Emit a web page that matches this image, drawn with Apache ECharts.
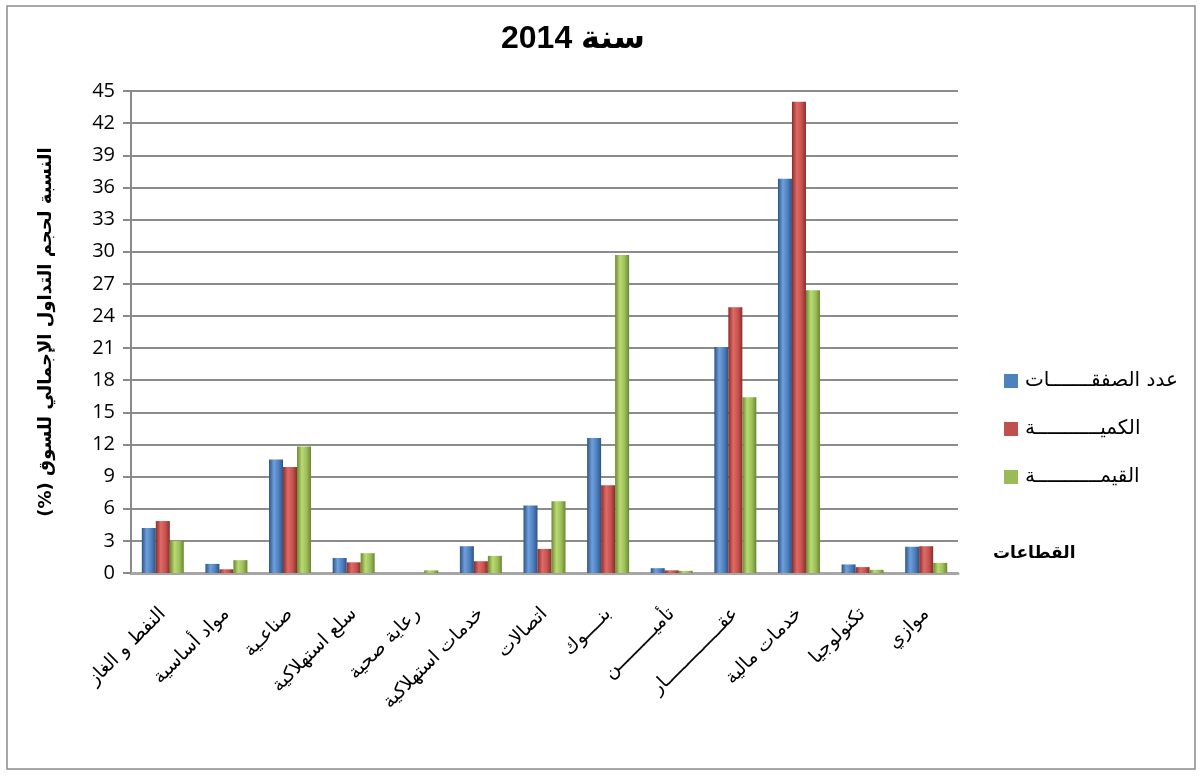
<!DOCTYPE html>
<html>
<head>
<meta charset="utf-8">
<script src="https://cdn.jsdelivr.net/npm/echarts@6/dist/echarts.min.js"></script>
<style>
  html, body { margin: 0; padding: 0; background: #ffffff; }
  #chart { width: 1203px; height: 776px; }
</style>
</head>
<body>
<div id="chart" dir="rtl"></div>
<script>
// Sector names along the category axis
const sectors = [
  'النفط و الغاز',
  'مواد أساسية',
  'صناعـية',
  'سلع استهلاكية',
  'رعاية صحية',
  'خدمات استهلاكية',
  'اتصالات',
  'بنــــوك',
  'تأميـــــــــن',
  'عقــــــــــــــار',
  'خدمات مالية',
  'تكنولوجيا',
  'موازي'
];

// Share of total market trading (%), per sector
const dealsShare  = [4.2, 0.85, 10.6, 1.4, 0, 2.5, 6.3, 12.6, 0.45, 21.1, 36.8, 0.8, 2.45];
const volumeShare = [4.85, 0.35, 9.9, 1.0, 0, 1.1, 2.25, 8.2, 0.25, 24.8, 44.0, 0.55, 2.5];
const valueShare  = [3.0, 1.2, 11.8, 1.85, 0.25, 1.6, 6.7, 29.7, 0.2, 16.4, 26.4, 0.3, 0.95];

const seriesNames = ['عدد الصفقـــــــات', 'الكميـــــــــــة', 'القيمـــــــــــة'];
const categoryAxisTitle = 'القطاعات';
const yTicks = { min: 0, max: 45, step: 3 };

// Cylinder-like shading across each bar
function shade(dark, light, base) {
  return new echarts.graphic.LinearGradient(0, 0, 1, 0, [
    { offset: 0, color: dark },
    { offset: 0.35, color: light },
    { offset: 0.7, color: base },
    { offset: 1, color: dark }
  ]);
}

const palette = [
  { legend: '#4F81BD', fill: shade('#2c5487', '#6fa0dc', '#4d7fbd') },
  { legend: '#C0504D', fill: shade('#8a2d2a', '#e06a66', '#c4524e') },
  { legend: '#9BBB59', fill: shade('#6a8731', '#badb72', '#9bbd58') }
];

const arabicFont = '"DejaVu Sans", sans-serif';

function makeSeries(name, data, idx) {
  return {
    name: name,
    type: 'bar',
    data: data,
    barWidth: 14,
    barGap: '0%',
    itemStyle: { color: palette[idx].fill },
    emphasis: { disabled: true }
  };
}

const chart = echarts.init(document.getElementById('chart'), null, { renderer: 'canvas' });

chart.setOption({
  animation: false,
  backgroundColor: '#ffffff',
  color: palette.map(p => p.legend),
  title: {
    text: 'سنة 2014',
    left: 568,
    top: 18,
    textAlign: 'center',
    textStyle: { fontFamily: '"Liberation Sans", ' + arabicFont, fontSize: 32, fontWeight: 'bold', color: '#000' }
  },
  legend: {
    orient: 'vertical',
    left: 999,
    top: 365,
    itemWidth: 14,
    itemHeight: 14,
    itemGap: 26,
    icon: 'rect',
    data: seriesNames.map((n, i) => ({ name: n, itemStyle: { color: palette[i].legend } })),
    textStyle: { fontFamily: arabicFont, fontSize: 20, lineHeight: 22, color: '#000', padding: [0, 0, 0, 2] }
  },
  grid: { left: 131, right: 245, top: 91, bottom: 203, containLabel: false },
  xAxis: {
    type: 'category',
    data: sectors,
    axisLine: { show: true, lineStyle: { color: '#a6a6a6', width: 3 } },
    axisTick: { show: false },
    axisLabel: {
      interval: 0,
      rotate: 45,
      margin: 38,
      color: '#000',
      fontFamily: arabicFont,
      fontSize: 19
    }
  },
  yAxis: {
    type: 'value',
    min: yTicks.min,
    max: yTicks.max,
    interval: yTicks.step,
    name: 'النسبة لحجم التداول الإجمالي للسوق (%)',
    nameLocation: 'middle',
    nameGap: 76,
    nameRotate: 90,
    nameTextStyle: { fontFamily: arabicFont, fontSize: 18, fontWeight: 'bold', color: '#000' },
    axisLine: { show: true, lineStyle: { color: '#8a8a8a', width: 2 } },
    axisTick: { show: true, inside: false, length: 8, lineStyle: { color: '#8a8a8a', width: 2 } },
    axisLabel: { margin: 16, color: '#000', fontFamily: '"Open Sans", "Liberation Sans", sans-serif', fontSize: 20 },
    splitLine: { show: true, lineStyle: { color: '#8c8c8c', width: 2 } }
  },
  graphic: [{
    type: 'rect',
    silent: true,
    z: -1,
    shape: { x: 7, y: 6, width: 1188, height: 763 },
    style: { fill: 'none', stroke: '#8a8a8a', lineWidth: 1.5 }
  }, {
    // title of the category axis, placed just past the axis end
    type: 'text',
    silent: true,
    left: 993,
    top: 545,
    style: {
      text: categoryAxisTitle,
      fontFamily: arabicFont,
      fontSize: 17,
      fontWeight: 'bold',
      fill: '#000'
    }
  }],
  series: [
    makeSeries(seriesNames[0], dealsShare, 0),
    makeSeries(seriesNames[1], volumeShare, 1),
    makeSeries(seriesNames[2], valueShare, 2)
  ]
});
</script>
</body>
</html>
